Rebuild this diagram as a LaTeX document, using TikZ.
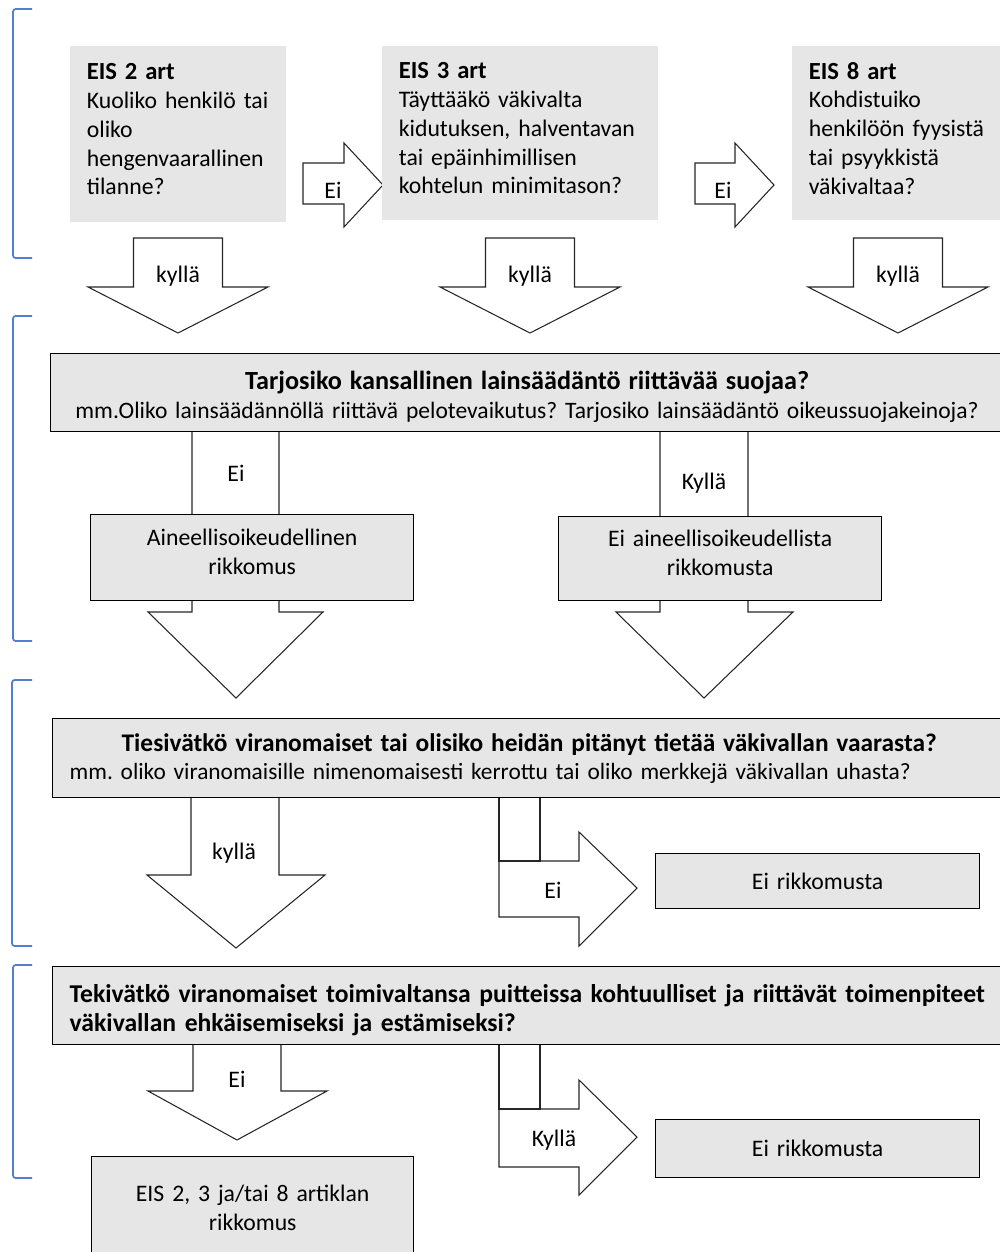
\documentclass[tikz,border=0pt]{standalone}
\usepackage{fontspec}
\setmainfont{Carlito}
\frenchspacing
\definecolor{boxgray}{RGB}{230,230,230}
\definecolor{klammerblau}{RGB}{84,126,210}
\tikzset{
  frage/.style={fill=boxgray, anchor=north west, inner xsep=0.33cm, inner ysep=0pt, align=left, font=\fontsize{13.5}{16.4}\selectfont},
  grossbox/.style={draw, line width=0.8pt, fill=boxgray, anchor=north west, inner xsep=0.34cm, inner ysep=0pt},
  ergebnis/.style={draw, line width=0.8pt, fill=boxgray, anchor=north west, inner sep=0pt, align=center, font=\fontsize{13.5}{16.4}\selectfont},
  blockpfeil/.style={draw=black!85, fill=white, line width=0.6pt},
  pfeiltext/.style={inner sep=0pt, font=\fontsize{13.5}{15}\selectfont},
  klammer/.style={draw=klammerblau, line width=1pt, rounded corners=1.5pt}
}
\begin{document}
\begin{tikzpicture}[x=0.02cm,y=-0.02cm]
  \useasboundingbox (0,0) rectangle (1000,1252);
  \clip (0,0) rectangle (1000,1252);
  %Klammern
  \draw[klammer] (32,9) -- (13,9) -- (13,258) -- (32,258);
  \draw[klammer] (32,316) -- (13,316) -- (13,641) -- (32,641);
  \draw[klammer] (32,680) -- (12,680) -- (12,946) -- (32,946);
  \draw[klammer] (32,965) -- (13,965) -- (13,1178) -- (32,1178);
  %Pfeile
  \draw[blockpfeil] (303,163) -- (344,163) -- (344,143) -- (383,185) -- (344,227) -- (344,204) -- (303,204) -- cycle;
  \draw[blockpfeil] (695,163) -- (735,163) -- (735,143) -- (774,185) -- (735,227) -- (735,204) -- (695,204) -- cycle;
  \draw[blockpfeil] (133.5,238) -- (222.5,238) -- (222.5,287) -- (268,287) -- (178,333) -- (88,287) -- (133.5,287) -- cycle;
  \draw[blockpfeil] (485.5,238) -- (574.5,238) -- (574.5,287) -- (620,287) -- (530,333) -- (440,287) -- (485.5,287) -- cycle;
  \draw[blockpfeil] (853.5,238) -- (942.5,238) -- (942.5,287) -- (988,287) -- (898,333) -- (808,287) -- (853.5,287) -- cycle;
  \draw[blockpfeil] (192,431) -- (279,431) -- (279,612) -- (323,612) -- (236,698) -- (148,612) -- (192,612) -- cycle;
  \draw[blockpfeil] (660,431) -- (748,431) -- (748,612) -- (793,612) -- (704,698) -- (616,612) -- (660,612) -- cycle;
  \draw[blockpfeil] (191,797) -- (279,797) -- (279,875) -- (325,875) -- (236,948) -- (147,875) -- (191,875) -- cycle;
  \draw[blockpfeil] (499,861) -- (579,861) -- (579,832) -- (637,888) -- (579,946) -- (579,917) -- (499,917) -- cycle;
  \draw[blockpfeil] (499,793) rectangle (540,861);
  \draw[blockpfeil] (193,1044) -- (281,1044) -- (281,1091) -- (327,1091) -- (237,1140) -- (148,1091) -- (193,1091) -- cycle;
  \draw[blockpfeil] (499,1109) -- (579,1109) -- (579,1080) -- (637,1137) -- (579,1195) -- (579,1167) -- (499,1167) -- cycle;
  \draw[blockpfeil] (499,1041) rectangle (540,1109);
  %Fragen
  \node[frage, minimum height=3.52cm, text width=3.66cm] (eis2) at (70,46)
    {{\fontsize{14}{16.4}\selectfont\bfseries EIS 2 art}\\Kuoliko henkilö tai\\oliko\\hengenvaarallinen\\tilanne?\par\vspace{5.7pt}\kern0pt};
  \node[frage, minimum height=3.48cm, text width=4.86cm] (eis3) at (382,46)
    {{\fontsize{14}{16.4}\selectfont\bfseries EIS 3 art}\\Täyttääkö väkivalta\\kidutuksen, halventavan\\tai epäinhimillisen\\kohtelun minimitason?\par\vspace{5.7pt}\kern0pt};
  \node[frage, minimum height=3.48cm, text width=4.86cm] (eis8) at (792,46)
    {{\fontsize{14}{16.4}\selectfont\bfseries EIS 8 art}\\Kohdistuiko\\henkilöön fyysistä\\tai psyykkistä\\väkivaltaa?\par\vspace{5.7pt}\kern0pt};
  \node[grossbox, minimum height=1.56cm, text width=18.38cm, align=center, font=\fontsize{13.4}{16.4}\selectfont] (suoja) at (50,353)
    {{\fontsize{14.9}{16.4}\selectfont\bfseries Tarjosiko kansallinen lainsäädäntö riittävää suojaa?}\\mm.Oliko lainsäädännöllä riittävä pelotevaikutus? Tarjosiko lainsäädäntö oikeussuojakeinoja?\par\vspace{-4.5pt}\kern0pt};
  \node[grossbox, minimum height=1.58cm, text width=18.38cm, align=left, font=\fontsize{13.3}{16}\selectfont] (tieto) at (52,718)
    {{\centering\fontsize{14.45}{16}\selectfont\bfseries Tiesivätkö viranomaiset tai olisiko heidän pitänyt tietää väkivallan vaarasta?\par}mm. oliko viranomaisille nimenomaisesti kerrottu tai oliko merkkejä väkivallan uhasta?};
  \node[grossbox, minimum height=1.56cm, text width=18.38cm, align=left, font=\fontsize{14.6}{17}\selectfont\bfseries] (toimet) at (52,966)
    {Tekivätkö viranomaiset toimivaltansa puitteissa kohtuulliset ja riittävät toimenpiteet\\väkivallan ehkäisemiseksi ja estämiseksi?\par\vspace{-5pt}\kern0pt};
  %Ergebnisse
  \node[ergebnis, minimum height=1.72cm, text width=6.46cm] (aine) at (90,514) {Aineellisoikeudellinen\\rikkomus\par\vspace{6.8pt}\kern0pt};
  \node[ergebnis, minimum height=1.68cm, text width=6.46cm] (eiaine) at (558,516) {Ei aineellisoikeudellista\\rikkomusta\par\vspace{6.8pt}\kern0pt};
  \node[ergebnis, minimum height=1.10cm, text width=6.48cm] (eirik1) at (655,853) {Ei rikkomusta};
  \node[ergebnis, minimum height=1.16cm, text width=6.48cm] (eirik2) at (655,1119) {Ei rikkomusta};
  \node[ergebnis, minimum height=2.04cm, text width=6.44cm] (rikkomus) at (91,1156) {EIS 2, 3 ja/tai 8 artiklan\\rikkomus};
  %Beschriftung Pfeile
  \node[pfeiltext] (ei1) at (333,190) {Ei};
  \node[pfeiltext] (ei2) at (723,190) {Ei};
  \node[pfeiltext] (k1) at (178,276) {kyllä};
  \node[pfeiltext] (k2) at (530,276) {kyllä};
  \node[pfeiltext] (k3) at (898,276) {kyllä};
  \node[pfeiltext] (ei3) at (236,473) {Ei};
  \node[pfeiltext] (k4) at (704,483) {Kyllä};
  \node[pfeiltext] (k5) at (234,853) {kyllä};
  \node[pfeiltext] (ei4) at (553,890) {Ei};
  \node[pfeiltext] (ei5) at (237,1079) {Ei};
  \node[pfeiltext] (k6) at (554,1140) {Kyllä};
\end{tikzpicture}
\end{document}
